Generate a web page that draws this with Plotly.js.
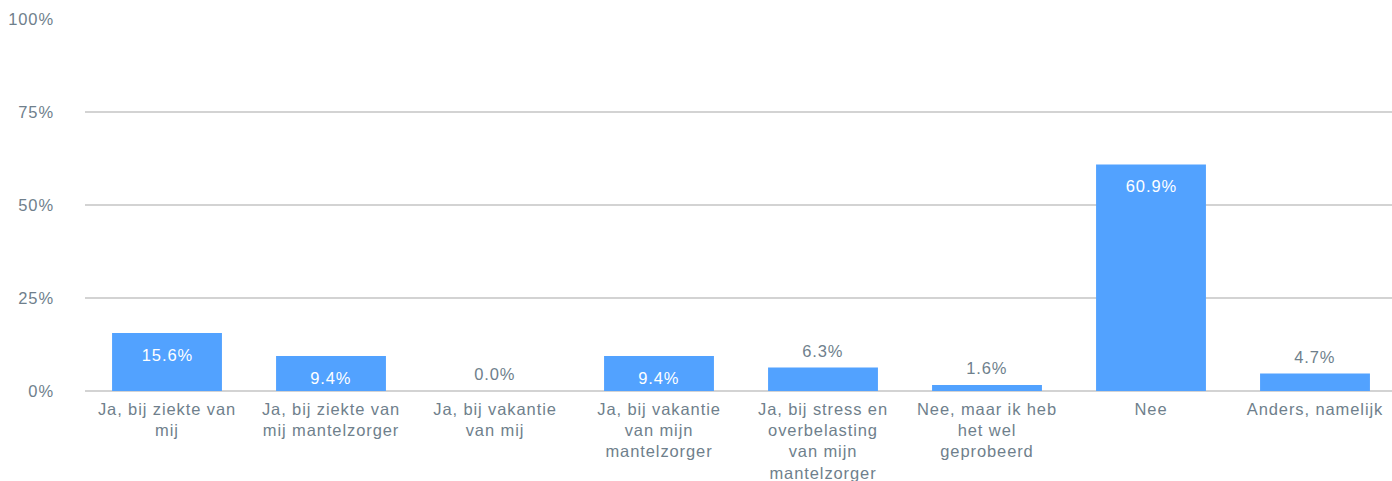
<!DOCTYPE html>
<html>
<head>
<meta charset="utf-8">
<script src="https://cdn.plot.ly/plotly-3.0.1.min.js"></script>
<style>
html,body{margin:0;padding:0;background:#fff;overflow:hidden;}
#chart{width:1397px;height:481px;}
#chart text{letter-spacing:0.9px;}
</style>
</head>
<body>
<div id="chart"></div>
<script>
var categories = [
  "Ja, bij ziekte van<br>mij",
  "Ja, bij ziekte van<br>mij mantelzorger",
  "Ja, bij vakantie<br>van mij",
  "Ja, bij vakantie<br>van mijn<br>mantelzorger",
  "Ja, bij stress en<br>overbelasting<br>van mijn<br>mantelzorger",
  "Nee, maar ik heb<br>het wel<br>geprobeerd",
  "Nee",
  "Anders, namelijk"
];
var values = [15.6, 9.4, 0.0, 9.4, 6.3, 1.6, 60.9, 4.7];
var yTickVals = [0, 25, 50, 75, 100];
var yTickText = ["0%", "25%", "50%", "75%", "100%"];

var FONT = "Liberation Sans, Arial, Helvetica, sans-serif";
var GREY = "#6f7f8c";
var FS = 16.5;

var annotations = values.map(function (v, i) {
  var inside = v >= 8;
  return {
    x: categories[i], y: v, xref: "x", yref: "y",
    text: v.toFixed(1) + "%",
    showarrow: false,
    yanchor: "middle",
    yshift: inside ? -22 : 17,
    font: {family: FONT, size: FS, color: inside ? "#ffffff" : GREY}
  };
});

var trace = {
  type: "bar",
  x: categories,
  y: values,
  marker: {color: "#52a2ff"},
  hoverinfo: "none"
};

var layout = {
  width: 1397, height: 481,
  margin: {l: 85, r: 0, t: 19, b: 90},
  paper_bgcolor: "#ffffff",
  plot_bgcolor: "#ffffff",
  bargap: 0.33,
  showlegend: false,
  font: {family: FONT, size: FS, color: GREY},
  xaxis: {
    type: "category",
    showgrid: false,
    zeroline: false,
    showline: false,
    ticks: "",
    ticklabelstandoff: 6,
    tickfont: {family: FONT, size: FS, color: GREY},
    fixedrange: true
  },
  yaxis: {
    range: [0, 100],
    tickvals: yTickVals,
    ticktext: yTickText,
    showgrid: true,
    gridcolor: "#d3d3d3",
    gridwidth: 2,
    zeroline: true,
    zerolinecolor: "#d3d3d3",
    zerolinewidth: 2,
    showline: false,
    ticks: "",
    ticklabelstandoff: 30,
    tickfont: {family: FONT, size: FS, color: GREY},
    fixedrange: true
  },
  annotations: annotations
};

Plotly.newPlot("chart", [trace], layout, {staticPlot: true, displayModeBar: false});
</script>
</body>
</html>
